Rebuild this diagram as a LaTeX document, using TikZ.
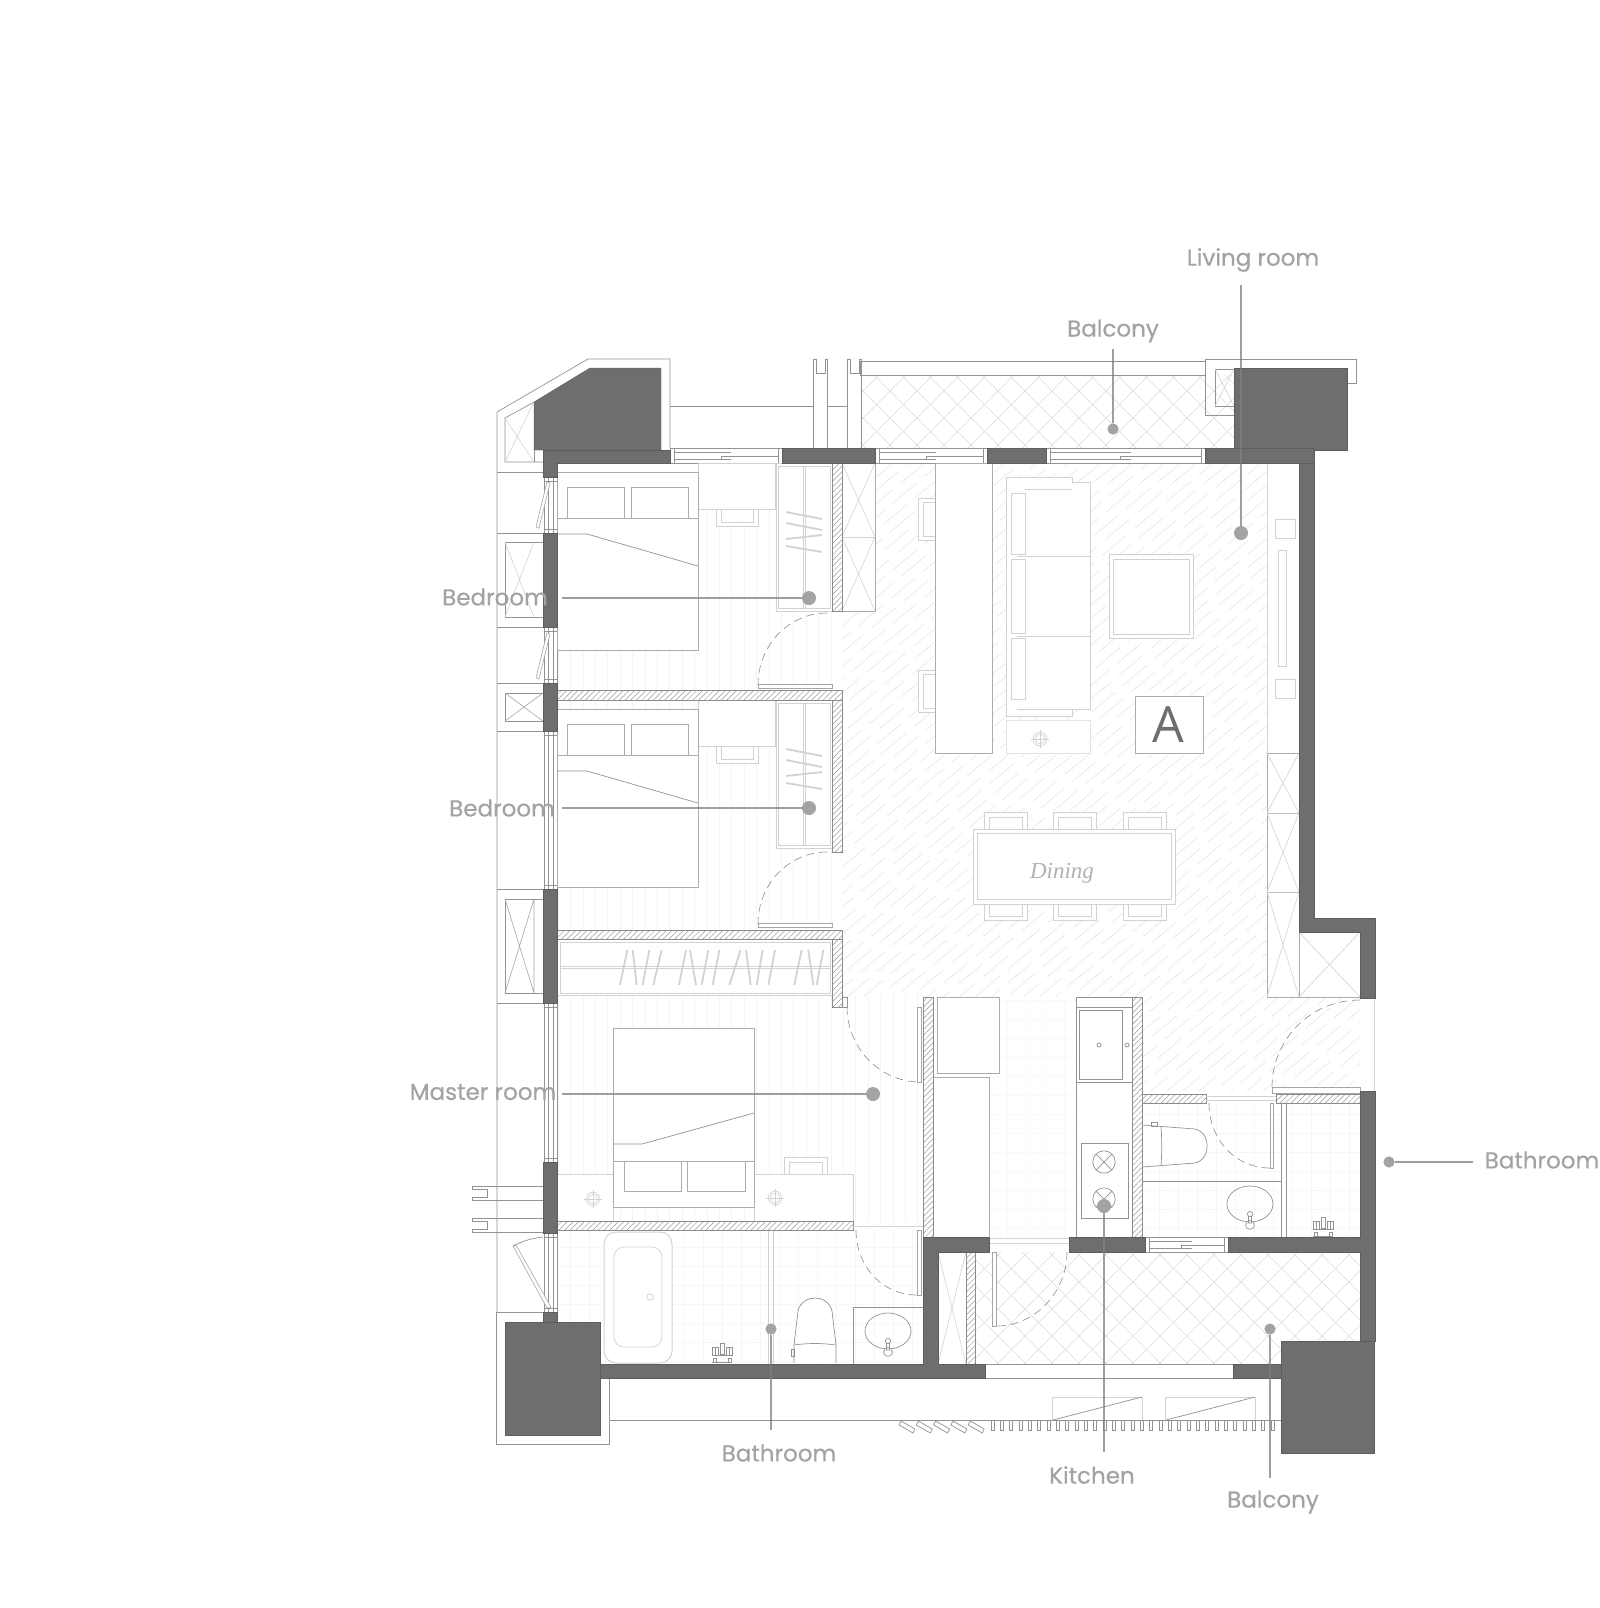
\documentclass[tikz,border=0pt]{standalone}
\usepackage{fontspec}
\setmainfont{Poppins}
\newfontfamily\labelfont[FakeBold=0.5]{Poppins}
\newfontfamily\markfont{Open Sans}
\newfontfamily\signfont{Liberation Serif}
\usepackage{xcolor}
\usetikzlibrary{patterns.meta,calc,positioning}
\definecolor{wallcolor}{RGB}{110, 110, 110}
\definecolor{labelcolor}{RGB}{163, 163, 163}

% sliding window, horizontal
\newcommand{\winh}[3]{
    \draw[pen, fill=white] (#1,#3) rectangle (#2,#3+15);
    \draw[pen] (#1+4,#3) -- (#1+4,#3+15) (#2-4,#3) -- (#2-4,#3+15);
    \draw[pen] (#1+4,#3+4) -- ({(#1+#2)/2+5},#3+4) ({(#1+#2)/2-5},#3+8) -- (#2-4,#3+8);
    \draw[pen] (#1+4,#3+11) -- ({(#1+#2)/2+5},#3+11) ({(#1+#2)/2-5},#3+8) -- ({(#1+#2)/2-5},#3+11);
}
% window, vertical
\newcommand{\winv}[2]{
    \fill[white] (543,#1) rectangle (557,#2);
    \foreach \wx in {544,548,553,557} {\draw[pen] (\wx,#1) -- (\wx,#2);}
    \draw[pen] (544,#1+4) -- (557,#1+4) (544,#2-4) -- (557,#2-4);
}
% lamp on a bedside table
\newcommand{\lamp}[2]{
    \draw[pale] (#1,#2) circle (3.4pt) (#1,#2) circle (2.4pt);
    \draw[pale] (#1-9,#2) -- (#1+9,#2) (#1,#2-9) -- (#1,#2+9);
}
% bath tap
\newcommand{\tap}[2]{
    \draw[thin line] (#1-10,#2+9) -- (#1+10,#2+9);
    \draw[thin line] (#1-9,#2+5) rectangle (#1-6,#2+9) (#1+6,#2+5) rectangle (#1+9,#2+9);
    \draw[thin line] (#1-10,#2-6) rectangle (#1-4,#2+2) (#1+4,#2-6) rectangle (#1+10,#2+2);
    \draw[thin line] (#1-7,#2-6) -- (#1-7,#2+2) (#1+7,#2-6) -- (#1+7,#2+2);
    \draw[thin line] (#1-2,#2-10) rectangle (#1+2,#2+1) (#1-4,#2+2) -- (#1+4,#2+2);
}
% sink with its tap
\newcommand{\sink}[2]{
    \draw[pen] (#1,#2) ellipse (11.5pt and 9pt);
    \draw[pen, fill=white] (#1-1.5,#2+9) rectangle (#1+1.5,#2+19) (#1,#2+21) circle (2.2pt);
    \draw[pen, fill=white] (#1,#2+10) circle (1.3pt);
}
% tiles of a balcony floor, inside the current clip
\newcommand{\tiles}{
    \foreach \c in {-300,-273,...,2700} {
        \draw[tile] (\c,1500) -- (\c+1300,200);
        \draw[tile] (\c,200) -- (\c+1300,1500);
    }
}

\begin{document}
\begin{tikzpicture}[
    x=0.5pt, y=-0.5pt,
    pen/.style={draw=gray!85, line width=0.35pt},
    thin line/.style={draw=gray!85, line width=0.25pt},
    furn/.style={draw=gray!65, fill=white, line width=0.4pt},
    pale/.style={draw=gray!35, line width=0.35pt},
    palefill/.style={draw=gray!35, fill=white, line width=0.5pt},
    wall/.style={fill=wallcolor, draw=wallcolor!85!black, line width=0.2pt},
    hatchwall/.style={draw=gray!90, fill=white, line width=0.35pt, pattern={Lines[angle=45,distance=2pt,line width=0.25pt]}, pattern color=gray!80},
    tile/.style={draw=gray!28, line width=0.25pt},
    wood/.style={pattern={Lines[angle=90,distance=6.2pt,line width=0.2pt]}, pattern color=gray!9},
    cross/.style={draw=gray!35, line width=0.3pt},
    door/.style={draw=gray!90, line width=0.3pt, dash pattern=on 4pt off 2.5pt},
    leaf/.style={draw=gray!70, fill=white, line width=0.3pt},
    dot/.style={circle, fill=labelcolor, inner sep=0pt, minimum size=7pt},
    smalldot/.style={circle, fill=labelcolor, inner sep=0pt, minimum size=5.6pt},
    leader/.style={draw=gray, line width=0.55pt, opacity=0.75},
    roomlabel/.style={text=labelcolor, font=\labelfont\fontsize{11.5}{12}\selectfont, inner sep=0pt}
]
    \useasboundingbox[fill=white] (0,0) rectangle (1600,1608);

    % Floors
    \begin{scope}
        \clip (842,463) -- (1267,463) -- (1267,997) -- (1360,997) -- (1360,1091) -- (1142,1091) -- (1142,997) -- (842,997) -- cycle;
        \pgfmathsetseed{7}
        \foreach \c in {1200,1216,...,2500} {
            \pgfmathsetmacro{\ph}{rnd*21}
            \draw[draw=gray!22, line width=0.25pt, dash pattern=on 16pt off 5pt, dash phase=\ph pt] (\c-1100,1100) -- (\c-300,430);
        }
    \end{scope}
    \path[wood] (557,477) rectangle (842,690);
    \path[wood] (557,700) rectangle (842,930);
    \path[wood] (557,995) rectangle (923,1221);
    \foreach \a in {90,0} {
        \path[pattern={Lines[angle=\a,distance=9.5pt,line width=0.2pt]}, pattern color=gray!7] (557,1230) rectangle (923,1364);
        \path[pattern={Lines[angle=\a,distance=9.5pt,line width=0.2pt]}, pattern color=gray!7] (1142,1103) rectangle (1360,1237);
        \path[pattern={Lines[angle=\a,distance=9.5pt,line width=0.2pt]}, pattern color=gray!5] (989,1000) rectangle (1076,1237);
    }
    \begin{scope}
        \clip (975,1252) -- (1360,1252) -- (1360,1341) -- (1281,1341) -- (1281,1364) -- (975,1364) -- cycle;
        \tiles
    \end{scope}
    \begin{scope}
        \clip (860,375) rectangle (1234,448);
        \tiles
    \end{scope}

    % Outer outlines, left side
    \draw[pen] (670,448) -- (670,359) -- (588,359) -- (497,412) -- (497,1312);
    \draw[pen] (497,472) -- (543,472) (497,533) -- (543,533) (497,627) -- (543,627) (497,683) -- (543,683) (497,731) -- (543,731);
    \draw[pen] (497,889) -- (543,889) (497,1003) -- (543,1003);
    \draw[pen] (543,1312) -- (496,1312) -- (496,1444) -- (609,1444) -- (609,1378);
    \draw[pen] (534,402) -- (505,418) -- (505,462) -- (543,462);
    \draw[cross] (505,418) -- (534,462) (505,462) -- (534,402);
    \draw[pen] (534,402) -- (534,462);
    \foreach \a/\b in {542/617,693/721,899/993} {
        \draw[pen] (505,\a) rectangle (543,\b);
    }
    \draw[cross] (505,542) -- (534,617) (505,617) -- (534,542);
    \draw[gray!70, line width=0.3pt] (505,693) -- (543,721) (505,721) -- (543,693);
    \draw[gray!70, line width=0.3pt] (505,899) -- (534,993) (505,993) -- (534,899) (534,899) -- (534,993);

    % Window doors on the left
    \winv{477}{533}
    \winv{627}{683}
    \winv{731}{889}
    \winv{1003}{1162}
    \winv{1233}{1312}
    \foreach \dy in {0,151} {
        \draw[leaf] (536,527+\dy) -- (539,528+\dy) -- (550,483+\dy) -- (547,482+\dy) -- cycle;
    }
    \draw[leaf] (513,1246) -- (516,1245) -- (551,1307) -- (547,1308) -- cycle;
    \draw[pen] (513,1246) .. controls (522,1241) and (533,1238) .. (543,1237);

    % Balusters on the left
    \foreach \dy in {0,32} {
        \draw[pen] (543,1186+\dy) -- (472,1186+\dy) -- (472,1189+\dy) -- (487,1189+\dy) -- (487,1197+\dy) -- (472,1197+\dy) -- (472,1200+\dy) -- (543,1200+\dy);
    }

    % Top side
    \draw[pen] (670,406) -- (813,406) (827,406) -- (847,406);
    \foreach \ux in {813,847} {
        \draw[pen] (\ux,448) -- (\ux,359) -- (\ux+3,359) -- (\ux+3,373) -- (\ux+12,373) -- (\ux+12,359) -- (\ux+14,359) -- (\ux+14,448);
    }
    \draw[pen] (860,375) -- (860,361) -- (1205,361);
    \draw[pen] (860,375) -- (1205,375);
    \draw[pen] (1234,415) -- (1205,415) -- (1205,359) -- (1356,359) -- (1356,383) -- (1347,383);
    \draw[pen] (1215,369) rectangle (1234,406);
    \draw[cross] (1215,369) -- (1234,406) (1215,406) -- (1234,369);

    % Windows
    \winh{670}{782}{448}
    \winh{875}{987}{448}
    \winh{1046}{1205}{448}
    \winh{1145}{1228}{1237}
    \draw[pen, fill=white] (985,1364) rectangle (1233,1378);

    % Bedrooms
    \foreach \dy in {0,237} {
        \draw[palefill] (698,463+\dy) rectangle (775,509+\dy);
        \draw[palefill] (716,509+\dy) rectangle (758,526+\dy);
        \draw[palefill] (721,509+\dy) rectangle (753,522+\dy);
        \draw[furn] (557,472+\dy) rectangle (698,650+\dy);
        \draw[furn] (567,487+\dy) rectangle (624,518+\dy);
        \draw[furn] (631,487+\dy) rectangle (688,518+\dy);
        \draw[furn] (557,518+\dy) -- (698,518+\dy);
        \draw[pen] (557,534+\dy) -- (587,534+\dy) -- (698,566+\dy);
        \draw[palefill] (776,463+\dy) rectangle (832,611+\dy);
        \draw[pale] (778,466+\dy) rectangle (830,608+\dy);
        \draw[pale] (803,466+\dy) -- (803,608+\dy) (805,466+\dy) -- (805,608+\dy);
        \foreach \a/\b in {512/519,523/530,539/535,546/552} {
            \draw[draw=gray!35, line width=0.9pt] (786,\a+\dy) -- (822,\b+\dy);
        }
    }
    \draw[furn] (842,463) rectangle (875,611);
    \draw[cross] (842,463) -- (875,537) (875,463) -- (842,537) (842,537) -- (875,611) (875,537) -- (842,611);
    \draw[pale] (842,537) -- (875,537);

    % Walk-in closet
    \draw[palefill] (557,939) rectangle (832,995);
    \draw[pale] (560,942) rectangle (830,993);
    \draw[pale] (560,966) -- (830,966) (560,968) -- (830,968);
    \foreach \a/\b in {420/442,470/458,488/508,520/545,597/618,648/630,665/685,698/718,748/782,812/798,830/848,865/885,943/965,1000/985,1010/1030} {
        \draw[draw=gray!35, line width=0.9pt] (480+\a/3,985) -- (480+\b/3,950);
    }

    % Master room
    \draw[palefill] (784,1157) rectangle (827,1174);
    \draw[palefill] (789,1162) rectangle (822,1174);
    \draw[palefill] (557,1174) rectangle (613,1221);
    \draw[palefill] (754,1174) rectangle (853,1221);
    \draw[furn] (613,1028) rectangle (754,1207);
    \draw[furn] (624,1161) rectangle (681,1191);
    \draw[furn] (687,1161) rectangle (745,1191);
    \draw[furn] (613,1161) -- (754,1161);
    \draw[pen] (613,1144) -- (642,1144) -- (754,1113);
    \lamp{593}{1199}
    \lamp{775}{1198}

    % Bathroom by the master room
    \draw[palefill, rounded corners=6pt] (604,1232) rectangle (672,1363);
    \draw[pale, rounded corners=5pt] (614,1247) rectangle (662,1347);
    \draw[pale] (650,1297) circle (1.6pt);
    \draw[pale] (768,1230) -- (768,1364) (773,1230) -- (773,1364);
    \tap{722}{1353}
    \draw[pen, fill=white] (794,1363) -- (794,1345) -- (798,1311) .. controls (800,1302) and (808,1298) .. (815,1298) .. controls (822,1298) and (830,1302) .. (832,1311) -- (836,1345) -- (836,1363);
    \draw[pen] (794,1345) .. controls (808,1343) and (822,1343) .. (836,1345);
    \draw[pen] (791,1349) rectangle (794,1356);
    \draw[pen] (853,1364) -- (853,1307) -- (923,1307);
    \sink{888}{1331}

    % Living room
    \draw[furn] (935,463) rectangle (992,753);
    \foreach \dy in {0,172} {
        \draw[palefill] (935,498+\dy) -- (918,498+\dy) -- (918,540+\dy) -- (935,540+\dy);
        \draw[pale] (935,502+\dy) -- (923,502+\dy) -- (923,536+\dy) -- (935,536+\dy);
    }
    \draw[palefill] (1006,477) -- (1072,477) -- (1072,482) -- (1090,482) -- (1090,709) -- (1072,709) -- (1072,716) -- (1006,716) -- cycle;
    \draw[pale] (1072,489) -- (1025,489) (1017,709) -- (1072,709) -- (1072,716);
    \draw[pale] (1017,556) -- (1090,556) (1017,636) -- (1090,636);
    \draw[palefill] (1011,493) rectangle (1025,554);
    \draw[palefill] (1011,559) rectangle (1025,633);
    \draw[palefill] (1011,638) rectangle (1025,699);
    \draw[palefill] (1109,554) rectangle (1193,638);
    \draw[palefill] (1113,559) rectangle (1189,634);
    \draw[palefill, draw=gray!22] (1006,720) rectangle (1090,753);
    \lamp{1040}{739}
    \draw[furn] (1135,696) rectangle (1203,753);
    \node[text=wallcolor, font=\markfont\fontsize{25}{25}\selectfont, inner sep=0pt] (markA) at (1168,725) {A};

    % Cabinets along the right wall
    \draw[palefill] (1267,463) -- (1267,997) (1299,463) -- (1299,753);
    \draw[palefill] (1275,519) rectangle (1295,538);
    \draw[palefill] (1278,550) rectangle (1286,666);
    \draw[palefill] (1275,679) rectangle (1295,698);
    \draw[furn] (1267,753) rectangle (1299,997);
    \draw[pen, draw=gray!50] (1267,813) -- (1299,813) (1267,892) -- (1299,892);
    \foreach \a/\b in {753/813,813/892,892/997} {
        \draw[cross] (1267,\a) -- (1299,\b) (1299,\a) -- (1267,\b);
    }
    \draw[furn] (1299,932) rectangle (1360,997);
    \draw[cross] (1299,932) -- (1360,997) (1299,997) -- (1360,932);

    % Dining
    \foreach \x in {984,1053,1123} {
        \draw[palefill] (\x,812) rectangle (\x+43,829);
        \draw[palefill] (\x+5,817) rectangle (\x+38,829);
        \draw[palefill] (\x,904) rectangle (\x+43,920);
        \draw[palefill] (\x+5,904) rectangle (\x+38,916);
    }
    \draw[palefill] (973,829) rectangle (1175,904);
    \draw[palefill] (977,833) rectangle (1171,899);
    \node[text=gray!60, font=\signfont\itshape\fontsize{11.5}{12}\selectfont, inner sep=0pt] (dining) at (1062,873) {Dining};

    % Kitchen
    \draw[furn] (937,997) rectangle (999,1073);
    \draw[furn] (933,1077) rectangle (989,1237);
    \draw[pen, fill=white] (1076,997) rectangle (1132,1237);
    \draw[pen] (1076,1007) -- (1132,1007) (1076,1082) -- (1132,1082);
    \draw[pen] (1079,1010) rectangle (1122,1079);
    \draw[pen] (1099,1045) circle (1pt) (1127,1045) circle (1pt);
    \draw[pen] (1081,1143) rectangle (1128,1218);
    \foreach \y in {1162,1199} {
        \draw[pen] (1104,\y) circle (5.6pt);
        \draw[pen] (1096,\y-8) -- (1112,\y+8) (1096,\y+8) -- (1112,\y-8);
    }

    % Bathroom by the entrance
    \draw[pen] (1142,1181) -- (1281,1181);
    \draw[pen, fill=white] (1281,1103) rectangle (1286,1237);
    \draw[pen, fill=white] (1142,1125) -- (1195,1129) .. controls (1203,1131) and (1207,1137) .. (1207,1146) .. controls (1207,1155) and (1203,1161) .. (1195,1163) -- (1142,1167);
    \draw[pen] (1161,1127) .. controls (1162,1140) and (1162,1152) .. (1161,1166);
    \draw[pen] (1151,1122) rectangle (1157,1126);
    \sink{1250}{1204}
    \tap{1323}{1227}

    % Brick walls
    \draw[hatchwall] (832,463) rectangle (842,611);
    \draw[hatchwall] (557,690) rectangle (842,700);
    \draw[hatchwall] (832,700) rectangle (842,852);
    \draw[hatchwall] (557,930) rectangle (842,939);
    \draw[hatchwall] (832,939) -- (842,939) -- (842,1007) -- (832,1007) -- cycle;
    \draw[hatchwall] (557,1221) rectangle (853,1230);
    \draw[hatchwall] (923,997) rectangle (933,1237);
    \draw[hatchwall] (1132,997) rectangle (1142,1237);
    \draw[hatchwall] (1142,1094) rectangle (1206,1103);
    \draw[hatchwall] (1276,1094) rectangle (1360,1103);
    \draw[hatchwall] (966,1252) rectangle (975,1364);

    % Closet by the bathroom
    \draw[cross] (938,1252) -- (966,1364) (966,1252) -- (938,1364);

    % Doors
    \foreach \dy in {0,239} {
        \draw[door] (827,613+\dy) .. controls (789,613+\dy) and (758,645+\dy) .. (758,685+\dy);
        \draw[leaf] (758,684+\dy) rectangle (832,688+\dy);
    }
    \draw[pen] (842,1007) -- (847,1007) -- (847,997) -- (842,997);
    \draw[door] (847,1007) .. controls (847,1048) and (880,1082) .. (920,1082);
    \draw[leaf] (917,1007) rectangle (921,1082);
    \draw[pale] (853,1226) -- (923,1226);
    \draw[door] (856,1230) .. controls (856,1266) and (882,1295) .. (917,1295);
    \draw[leaf] (917,1230) rectangle (921,1295);
    \draw[door] (1360,1000) .. controls (1310,1000) and (1272,1040) .. (1272,1087);
    \draw[leaf] (1272,1087) rectangle (1360,1093);
    \draw[pale] (1374,998) -- (1374,1091);
    \draw[door] (1209,1103) .. controls (1209,1139) and (1235,1168) .. (1270,1168);
    \draw[leaf] (1270,1103) rectangle (1273,1168);
    \draw[pale] (1206,1096) -- (1276,1096) (1206,1100) -- (1276,1100);
    \draw[pale] (989,1238) -- (1069,1238) (989,1243) -- (1069,1243);
    \draw[door] (1067,1252) .. controls (1067,1292) and (1035,1326) .. (997,1326);
    \draw[leaf] (992,1252) rectangle (996,1326);

    % Concrete walls
    \draw[wall] (534,402) -- (590,368) -- (661,368) -- (661,450) -- (534,450) -- cycle;
    \draw[wall] (543,450) -- (670,450) -- (670,463) -- (557,463) -- (557,477) -- (543,477) -- cycle;
    \draw[wall] (782,448) rectangle (875,463);
    \draw[wall] (987,448) rectangle (1046,463);
    \draw[wall] (1234,368) rectangle (1347,450);
    \draw[wall] (1205,448) rectangle (1314,463);
    \draw[wall] (1299,463) -- (1314,463) -- (1314,918) -- (1375,918) -- (1375,998) -- (1360,998) -- (1360,932) -- (1299,932) -- cycle;
    \foreach \a/\b in {533/627,683/731,889/1003,1162/1233,1312/1322} {
        \draw[wall] (543,\a) rectangle (557,\b);
    }
    \draw[wall] (505,1322) rectangle (600,1435);
    \draw[wall] (1360,1091) -- (1375,1091) -- (1375,1341) -- (1360,1341) -- (1360,1252) -- (1228,1252) -- (1228,1237) -- (1360,1237) -- cycle;
    \draw[wall] (1069,1237) rectangle (1145,1252);
    \draw[wall] (600,1364) -- (923,1364) -- (923,1237) -- (989,1237) -- (989,1252) -- (938,1252) -- (938,1364) -- (985,1364) -- (985,1378) -- (600,1378) -- cycle;
    \draw[wall] (1233,1364) rectangle (1281,1378);
    \draw[wall] (1281,1341) rectangle (1374,1453);

    % Outside the bottom balcony
    \draw[pen] (609,1420) -- (1281,1420);
    \foreach \x in {1052,1165} {
        \draw[pale] (\x,1420) -- (\x,1397) -- (\x+90,1397) -- (\x+90,1420);
        \draw[pen] (\x+1,1420) -- (\x+90,1397);
    }
    \foreach \i in {0,...,30} {
        \draw[pen] (991+\i*9.33,1420) rectangle (994+\i*9.33,1430);
    }
    \foreach \i in {0,...,4} {
        \draw[pen] (899+\i*17.3,1425) -- (901+\i*17.3,1421) -- (915+\i*17.3,1429) -- (913+\i*17.3,1433) -- cycle;
    }

    % Labels
    \node[roomlabel] (lbLiving) at (1253,260) {Living room};
    \node[roomlabel] (lbBalconyTop) at (1113,331) {Balcony};
    \node[roomlabel] (lbBedA) at (495,597) {Bedroom};
    \node[roomlabel] (lbBedB) at (502,808) {Bedroom};
    \node[roomlabel] (lbMaster) at (483,1092) {Master room};
    \node[roomlabel] (lbBathRight) at (1542,1160) {Bathroom};
    \node[roomlabel] (lbBathLeft) at (779,1453) {Bathroom};
    \node[roomlabel] (lbKitchen) at (1092,1475) {Kitchen};
    \node[roomlabel] (lbBalconyLow) at (1273,1502) {Balcony};

    % Dots and leaders
    \node[dot] (dLiving) at (1241,533) {};
    \node[smalldot] (dBalconyTop) at (1113,429) {};
    \node[dot] (dBedA) at (809,598) {};
    \node[dot] (dBedB) at (809,808) {};
    \node[dot] (dMaster) at (873,1094) {};
    \node[smalldot] (dBathRight) at (1389,1162) {};
    \node[smalldot] (dBathLeft) at (771,1329) {};
    \node[dot] (dKitchen) at (1104,1206) {};
    \node[smalldot] (dBalconyLow) at (1270,1329) {};

    \coordinate (eLiving) at (1241,285);
    \coordinate (eBalconyTop) at (1113,349);
    \coordinate (eBedA) at (562,598);
    \coordinate (eBedB) at (562,808);
    \coordinate (eMaster) at (562,1094);
    \coordinate (eBathRight) at (1473,1162);
    \coordinate (eBathLeft) at (771,1430);
    \coordinate (eKitchen) at (1104,1452);
    \coordinate (eBalconyLow) at (1270,1478);

    \foreach \n in {Living,BalconyTop,BedA,BedB,Master,BathRight,BathLeft,Kitchen,BalconyLow} {
        \draw[leader] (d\n) -- (e\n);
    }
\end{tikzpicture}
\end{document}
